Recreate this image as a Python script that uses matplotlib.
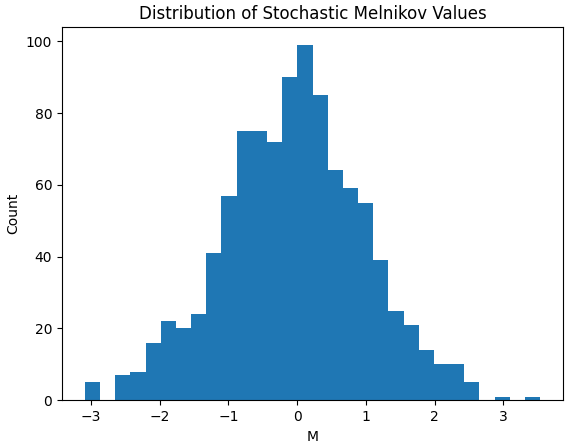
import matplotlib
matplotlib.use("Agg")
import matplotlib.pyplot as plt
import numpy as np

# Histogram counts (30 equal-width bins)
bin_min = -3.087
bin_max = 3.535
counts = [5, 0, 7, 8, 16, 22, 20, 24, 41, 57,
          75, 75, 72, 90, 99, 85, 64, 59, 55, 39,
          25, 21, 14, 10, 10, 5, 0, 1, 0, 1]

edges = np.linspace(bin_min, bin_max, len(counts) + 1)
centers = 0.5 * (edges[:-1] + edges[1:])

fig = plt.figure(figsize=(5.7, 4.47), dpi=100)
ax = fig.add_axes([0.1088, 0.1045, 0.8789, 0.8351])
ax.hist(centers, bins=edges, weights=counts)
ax.set_title("Distribution of Stochastic Melnikov Values")
ax.set_xlabel("M")
ax.set_ylabel("Count")

fig.savefig("out.png", dpi=100)
plt.close(fig)
